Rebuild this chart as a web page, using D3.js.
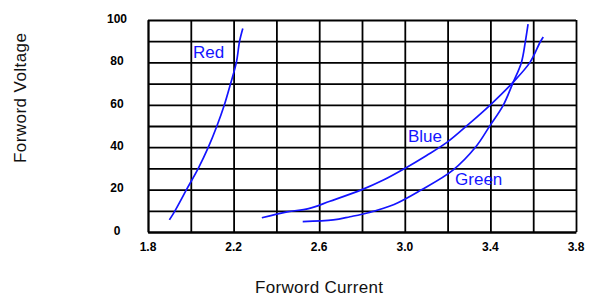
<!DOCTYPE html>
<html>
    <head>
        <meta charset="utf-8">
        <style>
            html, body {
                margin: 0px;
                padding: 0px;
                background-color: #fff;
                font-family: "Liberation Sans", Arial, sans-serif;
            }

            svg .grid line, svg .grid .domain {
                stroke: #000;
                stroke-width: 1.8px;
            }

            svg .tick-label {
                fill: #000;
                font-size: 12px;
                font-weight: bold;
            }

            svg .title {
                fill: #111;
                font-size: 17px;
            }

            svg .curve {
                fill: none;
                stroke: #1414ff;
                stroke-width: 1.7px;
            }

            svg .series-label {
                fill: #1414ff;
                font-size: 17px;
            }
        </style>
        <script src="https://cdn.jsdelivr.net/npm/d3@7"></script>
    </head>
    <body>
        <div id="main"></div>

        <script>
            // current (x) / voltage (y) pairs
            var redCurrent   = [1.90, 1.926, 1.98, 2.035, 2.082, 2.122, 2.157, 2.186, 2.213, 2.228, 2.243];
            var redVoltage   = [5.7, 10, 20, 30, 40, 50, 60, 70, 80, 90, 96];
            var blueCurrent  = [2.332, 2.45, 2.55, 2.65, 2.80, 2.90, 3.00, 3.10, 3.20, 3.30, 3.40, 3.50, 3.585, 3.632, 3.647];
            var blueVoltage  = [6.7, 9.5, 11, 14.5, 20, 24.5, 30, 36, 42.5, 51, 60, 70, 80, 89.5, 92];
            var greenCurrent = [2.523, 2.666, 2.744, 2.829, 2.95, 3.076, 3.225, 3.332, 3.395, 3.461, 3.504, 3.545, 3.563, 3.576];
            var greenVoltage = [4.9, 5.7, 7.2, 9.1, 13, 19.8, 29.2, 40.2, 49.7, 60, 70, 80, 89.6, 98];

            var seriesNames = ["Red", "Blue", "Green"];
            var labelCurrent = [2.01, 3.015, 3.235];
            var labelVoltage = [82, 42.5, 22];

            var xTicks = [1.8, 2.2, 2.6, 3.0, 3.4, 3.8];
            var yTicks = [0, 20, 40, 60, 80, 100];
            var xGrid = [1.8, 2.0, 2.2, 2.4, 2.6, 2.8, 3.0, 3.2, 3.4, 3.6, 3.8];
            var yGrid = [0, 10, 20, 30, 40, 50, 60, 70, 80, 90, 100];

            var width = 591;
            var height = 300;
            var plotLeft = 148, plotRight = 576, plotTop = 20, plotBottom = 232;

            function main() {
                var svg = d3.select("#main")
                            .append("svg")
                            .attr("width", width)
                            .attr("height", height);

                var x = d3.scaleLinear().domain([1.8, 3.8]).range([plotLeft, plotRight]);
                var y = d3.scaleLinear().domain([0, 100]).range([plotBottom, plotTop]);

                svg.append("g")
                    .attr("class", "grid")
                    .attr("transform", "translate(0," + plotBottom + ")")
                    .call(d3.axisBottom(x).tickValues(xGrid).tickSize(-(plotBottom - plotTop)).tickSizeOuter(0).tickFormat(""));

                svg.append("g")
                    .attr("class", "grid")
                    .attr("transform", "translate(" + plotLeft + ",0)")
                    .call(d3.axisLeft(y).tickValues(yGrid).tickSize(-(plotRight - plotLeft)).tickSizeOuter(0).tickFormat(""));

                svg.selectAll(".xlab")
                    .data(xTicks)
                    .enter()
                    .append("text")
                    .attr("class", "tick-label")
                    .attr("x", function(d) { return x(d); })
                    .attr("y", plotBottom + 15)
                    .attr("dy", "0.35em")
                    .style("text-anchor", "middle")
                    .text(function(d) { return d3.format(".1f")(d); });

                svg.selectAll(".ylab")
                    .data(yTicks)
                    .enter()
                    .append("text")
                    .attr("class", "tick-label")
                    .attr("x", plotLeft - 31)
                    .attr("y", function(d) { return y(d) - 1.5; })
                    .attr("dy", "0.35em")
                    .style("text-anchor", "middle")
                    .text(function(d) { return d; });

                var line = d3.line()
                    .x(function(d) { return x(d[0]); })
                    .y(function(d) { return y(d[1]); })
                    .curve(d3.curveCatmullRom);

                var series = [
                    d3.zip(redCurrent, redVoltage),
                    d3.zip(blueCurrent, blueVoltage),
                    d3.zip(greenCurrent, greenVoltage)
                ];

                svg.selectAll(".curve")
                    .data(series)
                    .enter()
                    .append("path")
                    .attr("class", "curve")
                    .attr("d", line);

                svg.selectAll(".series-label")
                    .data(seriesNames)
                    .enter()
                    .append("text")
                    .attr("class", "series-label")
                    .attr("x", function(d, i) { return x(labelCurrent[i]); })
                    .attr("y", function(d, i) { return y(labelVoltage[i]); })
                    .text(function(d) { return d; });

                svg.append("text")
                    .attr("class", "title")
                    .attr("transform", "translate(319,293)")
                    .attr("textLength", 128)
                    .style("text-anchor", "middle")
                    .text("Forword Current");

                svg.append("text")
                    .attr("class", "title")
                    .attr("transform", "translate(26,98) rotate(-90)")
                    .attr("textLength", 130)
                    .style("text-anchor", "middle")
                    .text("Forword Voltage");
            }

            main();
        </script>
    </body>
</html>
